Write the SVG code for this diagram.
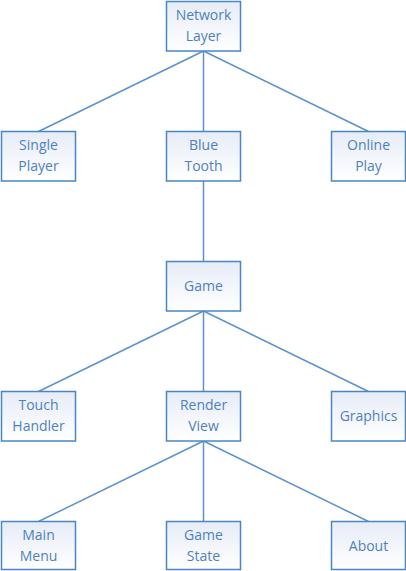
<svg xmlns="http://www.w3.org/2000/svg" width="406" height="571" viewBox="0 0 406 571">
<defs>
<linearGradient id="g" x1="0" y1="0" x2="0" y2="1">
<stop offset="0" stop-color="#e6ecf7"/>
<stop offset="1" stop-color="#ffffff"/>
</linearGradient>
<style>
.box{fill:url(#g);stroke:#4a86c4;stroke-width:1.5}
.t{font-family:"Open Sans","Liberation Sans",sans-serif;font-size:14px;fill:#4f81bd;text-anchor:middle}
.c{stroke:#5b92cc;stroke-width:1.5;fill:none}
</style>
</defs>
<rect width="406" height="571" fill="#ffffff"/>
<g id="connectors">
<line class="c" x1="203.5" y1="51" x2="38.5" y2="131.5"/>
<line class="c" x1="203.5" y1="51" x2="203.5" y2="131.5"/>
<line class="c" x1="203.5" y1="51" x2="368.5" y2="131.5"/>
<line class="c" x1="203.5" y1="181" x2="203.5" y2="261.5"/>
<line class="c" x1="203.5" y1="311" x2="38.5" y2="391.5"/>
<line class="c" x1="203.5" y1="311" x2="203.5" y2="391.5"/>
<line class="c" x1="203.5" y1="311" x2="368.5" y2="391.5"/>
<line class="c" x1="203.5" y1="441" x2="38.5" y2="521.5"/>
<line class="c" x1="203.5" y1="441" x2="203.5" y2="521.5"/>
<line class="c" x1="203.5" y1="441" x2="368.5" y2="521.5"/>
</g>
<g id="network-layer"><rect class="box" x="166.5" y="1.5" width="74" height="49.5"/><text class="t" x="203.5" y="20">Network</text><text class="t" x="203.5" y="41">Layer</text></g>
<g id="single-player"><rect class="box" x="1.5" y="131.5" width="74" height="49.5"/><text class="t" x="38.5" y="150">Single</text><text class="t" x="38.5" y="171">Player</text></g>
<g id="blue-tooth"><rect class="box" x="166.5" y="131.5" width="74" height="49.5"/><text class="t" x="203.5" y="150">Blue</text><text class="t" x="203.5" y="171">Tooth</text></g>
<g id="online-play"><rect class="box" x="331.5" y="131.5" width="74" height="49.5"/><text class="t" x="368.5" y="150">Online</text><text class="t" x="368.5" y="171">Play</text></g>
<g id="game"><rect class="box" x="166.5" y="261.5" width="74" height="49.5"/><text class="t" x="203.5" y="291">Game</text></g>
<g id="touch-handler"><rect class="box" x="1.5" y="391.5" width="74" height="49.5"/><text class="t" x="38.5" y="410">Touch</text><text class="t" x="38.5" y="431">Handler</text></g>
<g id="render-view"><rect class="box" x="166.5" y="391.5" width="74" height="49.5"/><text class="t" x="203.5" y="410">Render</text><text class="t" x="203.5" y="431">View</text></g>
<g id="graphics"><rect class="box" x="331.5" y="391.5" width="74" height="49.5"/><text class="t" x="368.5" y="421">Graphics</text></g>
<g id="main-menu"><rect class="box" x="1.5" y="521.5" width="74" height="48"/><text class="t" x="38.5" y="540">Main</text><text class="t" x="38.5" y="561">Menu</text></g>
<g id="game-state"><rect class="box" x="166.5" y="521.5" width="74" height="48"/><text class="t" x="203.5" y="540">Game</text><text class="t" x="203.5" y="561">State</text></g>
<g id="about"><rect class="box" x="331.5" y="521.5" width="74" height="48"/><text class="t" x="368.5" y="551">About</text></g>
</svg>
